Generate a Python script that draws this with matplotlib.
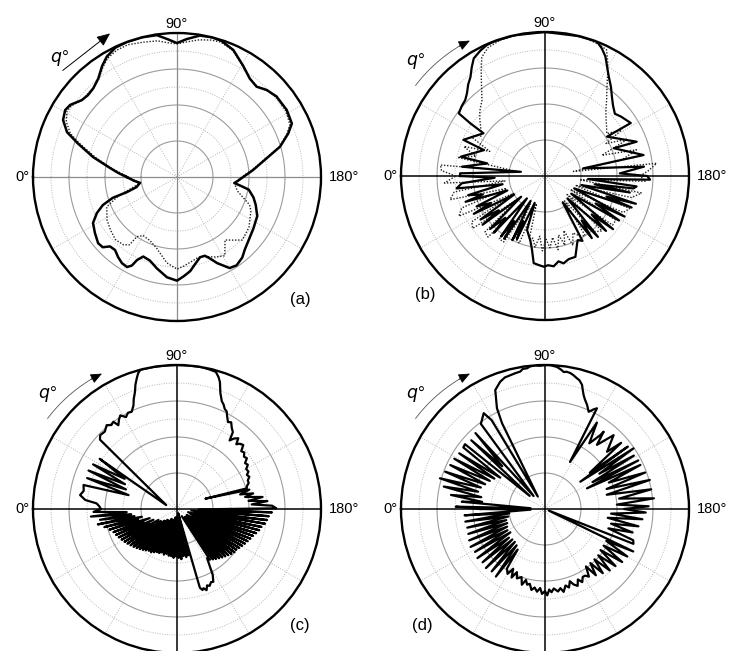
import numpy as np
import matplotlib
matplotlib.use('Agg')
import matplotlib.pyplot as plt

plt.rcParams['font.family'] = ['Liberation Sans', 'DejaVu Sans']

# angular distributions: (angle in degrees, normalised radius)
A_SOLID = [
    (0, 0.35), (4, 0.41), (7.7, 0.47), (13.4, 0.60), (18.8, 0.73), (22.2, 0.825), (26.6, 0.885),
    (30.9, 0.905), (34, 0.895), (38.9, 0.85), (42.5, 0.84), (46.7, 0.847), (51.4, 0.876), (56, 0.93),
    (59.7, 0.967), (64.5, 0.995), (69.6, 1.0), (76, 1.0), (81.9, 0.995), (86, 0.96), (90, 0.93),
    (94, 0.96), (99.2, 0.995), (104, 1.0), (108, 0.995), (113.9, 0.965), (120.6, 0.90), (126.5, 0.85),
    (131.4, 0.836), (135.9, 0.868), (141, 0.889), (148.6, 0.893), (155, 0.88), (158.6, 0.83),
    (163.6, 0.746), (168.2, 0.636), (174.8, 0.53), (180, 0.46), (184, 0.42), (186, 0.40),
    (188, 0.45), (190, 0.506), (195, 0.55), (199.5, 0.58), (206, 0.62), (214, 0.64), (223, 0.67),
    (227, 0.69), (231, 0.72), (236, 0.74), (240, 0.73), (245, 0.66), (248, 0.61), (250.5, 0.58),
    (254, 0.58), (258.5, 0.62), (262, 0.66), (266, 0.69), (270, 0.72), (275.7, 0.70), (282.4, 0.65),
    (288, 0.61), (293, 0.60), (295.7, 0.64), (297, 0.69), (299, 0.715), (302.6, 0.71), (306.4, 0.69),
    (310.3, 0.665), (314, 0.67), (316.6, 0.71), (320, 0.715), (325.7, 0.69), (331.3, 0.665),
    (335.8, 0.61), (339.3, 0.55), (342, 0.47), (343.3, 0.36), (346, 0.29), (351, 0.26), (355, 0.30),
    (360, 0.35),
]

A_DOTTED = [
    (0, 0.34), (7.7, 0.46), (13.4, 0.58), (18.8, 0.71), (22.2, 0.80), (26.6, 0.86), (30.9, 0.89),
    (34, 0.885), (38.9, 0.85), (46.7, 0.85), (51.4, 0.87), (56, 0.92), (59.7, 0.955), (64.5, 0.975),
    (69.6, 0.98), (76, 0.965), (81.9, 0.955), (86, 0.935), (90, 0.925), (94, 0.94), (99.2, 0.965),
    (104, 0.98), (108, 0.985), (113.9, 0.96), (120.6, 0.895), (126.5, 0.85), (131.4, 0.84),
    (135.9, 0.865), (141, 0.885), (148.6, 0.885), (155, 0.865), (158.6, 0.82), (163.6, 0.74),
    (168.2, 0.63), (174.8, 0.52), (180, 0.45), (186, 0.40), (193, 0.43), (201, 0.54), (204.7, 0.565),
    (215, 0.61), (224, 0.63), (228, 0.59), (232.7, 0.55), (238.7, 0.64), (244.6, 0.615),
    (251.8, 0.58), (256, 0.58), (265.5, 0.62), (270, 0.64), (276.8, 0.60), (285.9, 0.515),
    (293, 0.48), (300, 0.47), (304, 0.50), (305, 0.575), (308.3, 0.60), (314.5, 0.61),
    (321.6, 0.59), (328.5, 0.57), (337, 0.53), (342, 0.43), (347, 0.31), (351, 0.26), (355, 0.29),
    (360, 0.34),
]

B_SOLID = [
    (0, 0.59), (1.8, 0.59), (9.9, 0.17), (6.4, 0.58), (12.3, 0.41), (12.9, 0.60), (23, 0.46),
    (23.9, 0.62), (34.8, 0.52), (35.2, 0.635), (36, 0.74), (40, 0.755), (43.6, 0.765), (46.7, 0.79),
    (50, 0.83), (53, 0.86), (56, 0.91), (58.8, 0.955), (62.8, 0.98), (66, 0.995), (69.3, 1.0),
    (77.6, 1.0), (90, 1.0), (103.9, 1.0), (111.2, 1.0), (114, 0.97), (116.8, 0.93), (119.5, 0.875),
    (122.7, 0.82), (126.5, 0.77), (130.2, 0.72), (134, 0.68), (138.3, 0.65), (142, 0.67),
    (148.3, 0.70), (147.6, 0.51), (159.5, 0.68), (158, 0.515), (168, 0.70), (168.7, 0.27),
    (174.6, 0.69), (178, 0.52), (180, 0.71),
    (182, 0.73), (184, 0.30), (186.5, 0.64), (188, 0.62), (189.5, 0.35), (191, 0.60), (194, 0.26),
    (197, 0.66), (198.5, 0.45), (200, 0.64), (203, 0.22), (207, 0.62), (208.5, 0.40), (211, 0.60),
    (214, 0.22), (218, 0.60), (219.5, 0.42), (222, 0.57), (225, 0.22), (229, 0.56), (230.5, 0.40),
    (233, 0.54), (236, 0.22), (240, 0.52), (243, 0.50), (244.6, 0.52), (249.4, 0.60),
    (254, 0.60), (258, 0.62), (261, 0.60), (264.5, 0.63), (268, 0.62), (270.8, 0.63), (274, 0.62),
    (277.4, 0.61), (280, 0.52), (283, 0.456), (286, 0.42), (288.4, 0.395), (291, 0.20), (294, 0.48),
    (295.5, 0.35), (297, 0.50), (300, 0.20), (303, 0.52), (304.5, 0.38), (306, 0.52), (309, 0.20),
    (312, 0.53), (313.5, 0.40), (316, 0.53), (319, 0.22), (322, 0.55), (323.5, 0.40), (326, 0.54),
    (329, 0.25), (332, 0.56), (333.5, 0.42), (336, 0.52), (339, 0.28), (342, 0.58), (343.5, 0.45),
    (346, 0.55), (349, 0.30), (352, 0.62), (355, 0.58), (358, 0.35), (360, 0.59),
]

B_DOTTED = [
    (0, 0.62), (3, 0.72), (6, 0.73), (9, 0.20), (12, 0.62), (16, 0.50), (20, 0.60), (24, 0.42),
    (28, 0.58), (31, 0.55), (32, 0.52), (36, 0.55), (41, 0.60), (45, 0.64), (50.3, 0.685),
    (53, 0.73), (56, 0.79), (59, 0.86), (62, 0.935), (66, 0.975), (72, 0.995), (80, 1.0), (90, 1.0),
    (100, 1.0), (108, 0.995), (113, 0.985), (116, 0.975), (119, 0.90), (122, 0.82), (125.5, 0.74),
    (129, 0.68), (133, 0.62), (137, 0.58), (141, 0.55), (145.5, 0.52), (149, 0.62), (152, 0.48),
    (156, 0.63), (160, 0.42), (164, 0.66), (168, 0.55), (171, 0.20), (173.5, 0.78), (177, 0.72),
    (180, 0.66),
    (183, 0.70), (186, 0.24), (190, 0.68), (194, 0.62), (197, 0.22), (201, 0.63), (205, 0.60),
    (208, 0.20), (212, 0.58), (216, 0.58), (220, 0.20), (224, 0.55), (228, 0.52), (232, 0.22),
    (236, 0.50), (240, 0.48), (244, 0.44), (248, 0.52), (251, 0.40), (254, 0.50), (257, 0.42),
    (260, 0.52), (263, 0.43), (266, 0.50), (269, 0.44), (272, 0.52), (275, 0.42), (278, 0.50),
    (281, 0.44), (284, 0.46), (287, 0.20), (291, 0.50), (295, 0.48), (298, 0.22), (302, 0.54),
    (306, 0.54), (309, 0.22), (313, 0.58), (317, 0.57), (320, 0.25), (324, 0.62), (328, 0.60),
    (331, 0.25), (335, 0.66), (339, 0.62), (342, 0.28), (346, 0.68), (350, 0.64), (353, 0.28),
    (356, 0.70), (360, 0.62),
]

C_SOLID = [
    (0, 0.53), (2, 0.54), (4, 0.56), (5.6, 0.64), (8.2, 0.68), (11, 0.66), (14.4, 0.67), (16, 0.35),
    (19, 0.66), (21, 0.38), (23.5, 0.67), (25.5, 0.40), (28, 0.66), (30, 0.42), (33, 0.64),
    (20, 0.08), (42, 0.72), (43.9, 0.74), (47, 0.735), (50, 0.76), (52, 0.74), (53.9, 0.75),
    (55, 0.71), (57, 0.74), (58.8, 0.76), (61, 0.73), (63, 0.75), (65, 0.745), (67.2, 0.78),
    (68.5, 0.82), (70.3, 0.865), (71.5, 0.91), (72.9, 0.95), (74, 0.98), (75.3, 1.0), (80, 1.0),
    (85, 1.0), (90, 1.0), (95, 1.0), (100, 1.0), (103, 0.995), (105.8, 0.99), (107.5, 0.96),
    (108.7, 0.93), (110.5, 0.86), (112.6, 0.81), (114, 0.795), (115.5, 0.77), (117, 0.76),
    (118.5, 0.73), (120.4, 0.70), (122, 0.71), (124, 0.68), (126, 0.66), (127.5, 0.60),
    (129, 0.63), (130.9, 0.65), (132.5, 0.61), (134, 0.63), (136, 0.64), (138, 0.60), (140, 0.61),
    (142, 0.59), (144, 0.60), (146, 0.57), (148, 0.58), (150, 0.555), (152.4, 0.56), (154, 0.54),
    (156, 0.55), (158, 0.53), (160, 0.53), (162, 0.51), (163.5, 0.505), (160, 0.21), (165, 0.52),
    (167, 0.45), (168.4, 0.54), (170, 0.48), (172, 0.60), (173.5, 0.50), (175, 0.63), (176.5, 0.52),
    (178, 0.66), (179.6, 0.69),
    (181, 0.15), (182, 0.66), (183.5, 0.20), (184.5, 0.64), (186, 0.10), (187, 0.63), (188.5, 0.25),
    (189.5, 0.62), (191, 0.12), (192, 0.60), (193.5, 0.22), (194.5, 0.59), (196, 0.08), (197, 0.575),
    (198.5, 0.20), (199.5, 0.56), (201, 0.10), (202, 0.55), (203.5, 0.25), (204.5, 0.54), (206, 0.12),
    (207, 0.53), (208.5, 0.22), (209.5, 0.52), (211, 0.08), (212, 0.51), (213.5, 0.20), (214.5, 0.50),
    (216, 0.10), (217, 0.50), (218.5, 0.22), (219.5, 0.49), (221, 0.08), (222, 0.48), (223.5, 0.18),
    (224.5, 0.47), (226, 0.08), (227, 0.46), (228.5, 0.20), (229.5, 0.45), (231, 0.08), (232, 0.44),
    (233.5, 0.15), (234.5, 0.43), (236, 0.06), (237, 0.42), (238.5, 0.40), (240, 0.45),
    (241.5, 0.52), (243.5, 0.565), (245, 0.56), (247, 0.58), (248.5, 0.57), (250, 0.60),
    (251.5, 0.58), (252.5, 0.59), (253.8, 0.57), (254.5, 0.03),
    (256, 0.33), (257.5, 0.06), (259, 0.34), (260.5, 0.08), (262, 0.33), (263.5, 0.05), (265, 0.35),
    (266.5, 0.10), (268, 0.34), (269.5, 0.06), (271, 0.33), (272.5, 0.10), (274, 0.34), (275.5, 0.06),
    (277, 0.33), (278.5, 0.10), (280, 0.33), (281.5, 0.06), (283, 0.32), (284.5, 0.10), (286, 0.33),
    (287.5, 0.08), (289, 0.32), (290.5, 0.12), (292, 0.33), (293.5, 0.08), (295, 0.33), (296.5, 0.12),
    (298, 0.34), (299.5, 0.08), (301, 0.35), (302.5, 0.14), (304, 0.35), (305.5, 0.10), (307, 0.36),
    (308.5, 0.15), (310, 0.37), (311.5, 0.10), (313, 0.38), (314.5, 0.15), (316, 0.39), (317.5, 0.12),
    (319, 0.40), (320.5, 0.18), (322, 0.41), (323.5, 0.14), (325, 0.42), (326.5, 0.20), (328, 0.43),
    (329.5, 0.15), (331, 0.44), (332.5, 0.22), (334, 0.45), (335.5, 0.18), (337, 0.46), (338.5, 0.25),
    (340, 0.47), (341.5, 0.20), (343, 0.49), (344.5, 0.28), (346, 0.52), (347.5, 0.25), (349, 0.56),
    (350.5, 0.30), (352, 0.54), (353.5, 0.32), (355, 0.60), (356.5, 0.35), (358, 0.58), (360, 0.53),
]

D_SOLID = [
    (0, 0.45), (1.5, 0.62), (3, 0.10), (5, 0.58), (6.5, 0.44), (8.5, 0.66), (10.5, 0.45),
    (12.5, 0.72), (14.5, 0.48), (16.3, 0.76), (18.5, 0.47), (20.5, 0.74), (22.5, 0.45),
    (24.9, 0.725), (27, 0.43), (29, 0.72), (31, 0.41), (33, 0.71), (35, 0.38), (37, 0.71),
    (39, 0.715), (40.5, 0.14), (43, 0.70), (45, 0.42), (47.5, 0.715), (48.7, 0.12), (53, 0.74),
    (57.4, 0.79), (59, 0.72), (60, 0.10), (63.4, 0.666), (64.5, 0.775), (67.3, 0.895), (70.6, 0.937),
    (73, 0.955), (75.5, 0.96), (77.5, 0.965), (79.8, 0.97), (81, 0.985), (82.7, 0.985), (84, 0.995),
    (86, 1.0), (88, 0.995), (90, 1.0), (92, 1.0), (94.8, 0.99), (96.5, 0.975), (97.8, 0.96),
    (99, 0.965), (100.6, 0.96), (102, 0.95), (103.8, 0.934), (105, 0.925), (106.6, 0.90),
    (107.5, 0.87), (108.7, 0.836), (110, 0.81), (112, 0.78), (114.2, 0.74), (116, 0.77),
    (117.3, 0.787), (118, 0.37), (121, 0.70), (124, 0.55), (126.8, 0.64), (127.2, 0.674),
    (129, 0.573), (132.9, 0.70), (137.3, 0.586), (139, 0.70), (141, 0.40), (143, 0.72),
    (142.3, 0.31), (145.6, 0.745), (147, 0.45), (149, 0.72), (150.5, 0.38), (152.5, 0.73),
    (153.8, 0.325), (155.2, 0.73), (157.5, 0.48), (160, 0.74), (162, 0.45), (164.5, 0.755),
    (167, 0.44), (169.5, 0.75), (172, 0.52), (174.4, 0.76), (176.5, 0.50), (178.5, 0.72),
    (180, 0.55),
    (182, 0.70), (184, 0.46), (186, 0.68), (188, 0.44), (190.5, 0.66), (192.5, 0.47), (195, 0.63),
    (197, 0.46), (199.5, 0.65), (201.5, 0.66), (203, 0.03), (205.7, 0.68), (207.5, 0.48),
    (210, 0.66), (212, 0.48), (214.5, 0.65), (216.5, 0.48), (219, 0.63), (221, 0.49), (223.5, 0.62),
    (225.5, 0.49), (228, 0.60), (230, 0.49), (232.5, 0.58), (234.5, 0.49), (237, 0.56), (239, 0.54),
    (241, 0.54), (243, 0.57), (245, 0.54), (247, 0.58), (249.3, 0.56), (251, 0.53), (253, 0.57),
    (255, 0.55), (257.3, 0.59), (259, 0.56), (261, 0.58), (263.7, 0.555), (265.5, 0.58), (267, 0.56),
    (268.5, 0.60), (270, 0.57), (272, 0.59), (273.5, 0.55), (275.5, 0.577), (277.5, 0.55),
    (279.5, 0.57), (281.5, 0.53), (283.3, 0.54), (285, 0.51), (287, 0.55), (289, 0.50), (292, 0.52),
    (294, 0.48), (296, 0.53), (298, 0.47), (300, 0.52), (302.6, 0.49),
    (304, 0.34), (306, 0.58), (308, 0.32), (310.5, 0.57), (312.5, 0.31), (315, 0.58), (317, 0.31),
    (319.5, 0.57), (321.5, 0.32), (324, 0.58), (326, 0.29), (328.5, 0.57), (330.5, 0.30), (333, 0.58),
    (335, 0.29), (337.5, 0.57), (339.5, 0.28), (342, 0.56), (344, 0.28), (346.5, 0.555),
    (348.5, 0.26), (351, 0.56), (353, 0.25), (355.5, 0.56), (357.5, 0.10), (360, 0.45),
]

PANEL_LABELS = ['(a)', '(b)', '(c)', '(d)']
ANGLE_LABELS = ['0°', '90°', '180°']
GRID_SOLID = [0.25, 0.5, 0.75]
GRID_DOTTED = [0.375, 0.625, 0.875]
SPOKES = [30, 60, 120, 150, 210, 240, 300, 330]

W, H = 734, 651
R_PX = 144


def axes_rect(cx, cy):
    return [(cx - R_PX) / W, (H - cy - R_PX) / H, 2 * R_PX / W, 2 * R_PX / H]


def polar_line(ax, pts, **kw):
    deg = np.array([p[0] for p in pts])
    r = np.array([p[1] for p in pts])
    ax.plot(np.deg2rad(deg), r, **kw)


def setup_polar(ax, axis_color, axis_lw):
    ax.set_theta_zero_location('W')
    ax.set_theta_direction(-1)
    ax.set_xticks([])
    ax.set_yticks([])
    ax.grid(False)
    ring = np.linspace(0, 2 * np.pi, 361)
    for r in GRID_SOLID:
        ax.plot(ring, np.full_like(ring, r), color='#9c9c9c', lw=0.8, zorder=1)
    for r in GRID_DOTTED:
        ax.plot(ring, np.full_like(ring, r), color='#b8b8b8', lw=0.7, ls=(0, (1, 1.5)), zorder=1)
    for a in SPOKES:
        t = np.deg2rad(a)
        ax.plot([t, t], [0, 1], color='#b8b8b8', lw=0.7, ls=(0, (1, 1.5)), zorder=1)
    for a in (0, 90):
        t = np.deg2rad(a)
        ax.plot([t, t, t + np.pi], [1, 0, 1], color=axis_color, lw=axis_lw, zorder=2)
    ax.spines['polar'].set_linewidth(1.7)
    ax.spines['polar'].set_color('black')

    ax.text(-4 / 288, 0.5, ANGLE_LABELS[0], transform=ax.transAxes,
            ha='right', va='center', fontsize=10.5)
    ax.text(0.5, 1 + 5 / 288, ANGLE_LABELS[1], transform=ax.transAxes,
            ha='center', va='baseline', fontsize=10.5)
    ax.text(1 + 8 / 288, 0.5, ANGLE_LABELS[2], transform=ax.transAxes,
            ha='left', va='center', fontsize=10.5)


def theta_arrow(ax, straight):
    if straight:
        ax.annotate('', xy=(np.deg2rad(65), 1.10), xytext=(np.deg2rad(43), 1.085),
                    arrowprops=dict(arrowstyle='-|>,head_length=0.8,head_width=0.35',
                                    color='black', lw=0.7, shrinkA=0, shrinkB=0),
                    annotation_clip=False)
        ax.text(np.deg2rad(45.5), 1.16, '$q$°', fontsize=12.5, ha='center', va='center')
    else:
        t = np.deg2rad(np.linspace(35, 57, 30))
        r = np.linspace(1.097, 1.08, 30)
        ax.plot(t, r, color='#555555', lw=0.6, clip_on=False)
        ax.annotate('', xy=(np.deg2rad(61), 1.075), xytext=(np.deg2rad(56.5), 1.081),
                    arrowprops=dict(arrowstyle='-|>,head_length=0.7,head_width=0.3',
                                    color='black', lw=0.6, shrinkA=0, shrinkB=0),
                    annotation_clip=False)
        ax.text(np.deg2rad(41.5), 1.2, '$q$°', fontsize=12.5, ha='center', va='center')


fig = plt.figure(figsize=(W / 100, H / 100), dpi=100)

panels = [
    ((177, 177), '#8c8c8c', 0.9, True, (0.927, 0.075)),
    ((545, 176), 'black', 1.1, False, (0.083, 0.090)),
    ((177, 509), 'black', 1.1, False, (0.927, 0.094)),
    ((545, 509), 'black', 1.1, False, (0.073, 0.094)),
]

axes = []
for (centre, axis_color, axis_lw, straight, lab_pos), label in zip(panels, PANEL_LABELS):
    ax = fig.add_axes(axes_rect(*centre), projection='polar')
    setup_polar(ax, axis_color, axis_lw)
    theta_arrow(ax, straight)
    ax.text(lab_pos[0], lab_pos[1], label, transform=ax.transAxes,
            ha='center', va='center', fontsize=12)
    axes.append(ax)

polar_line(axes[0], A_SOLID, color='black', lw=1.8, zorder=4)
polar_line(axes[0], A_DOTTED, color='#222222', lw=1.0, ls=(0, (1, 1.2)), zorder=3)

polar_line(axes[1], B_SOLID, color='black', lw=1.6, zorder=4)
polar_line(axes[1], B_DOTTED, color='#222222', lw=1.0, ls=(0, (1, 1.2)), zorder=3)

polar_line(axes[2], C_SOLID, color='black', lw=1.6, zorder=4)
polar_line(axes[3], D_SOLID, color='black', lw=1.6, zorder=4)

for ax in axes:
    ax.set_ylim(0, 1)

fig.savefig('out.png', dpi=100)
